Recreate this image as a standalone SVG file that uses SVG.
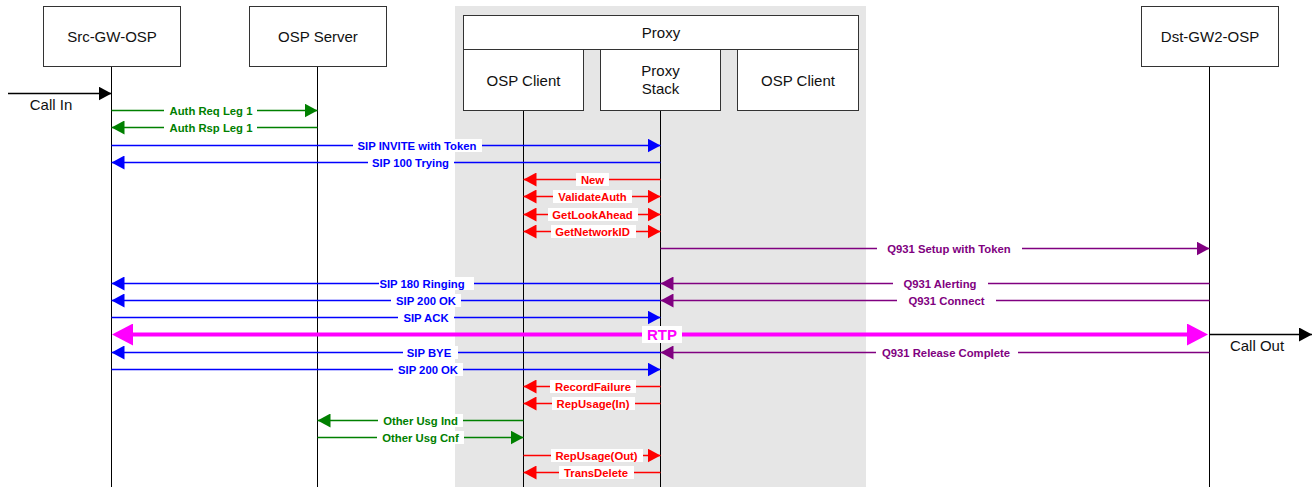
<svg xmlns="http://www.w3.org/2000/svg" width="1315" height="487" viewBox="0 0 1315 487">
<style>
.node rect{fill:#fff;stroke:#333;stroke-width:1}
.node text{font-family:"Liberation Sans",Arial,sans-serif;font-size:15px;fill:#111;text-anchor:middle}
.life{stroke:#000;stroke-width:1}
.lbl{font-family:"Liberation Sans",Arial,sans-serif;font-weight:bold;font-size:11.3px;text-anchor:middle}
.bg{fill:#fff}
.msg{stroke-width:1.3;fill:none}
.g{stroke:#008000}.gt{fill:#008000}
.b{stroke:#0000ff}.bt{fill:#0000ff}
.r{stroke:#ff0000}.rt{fill:#ff0000}
.p{stroke:#800080}.pt{fill:#800080}
.k{stroke:#000}
.plain{font-family:"Liberation Sans",Arial,sans-serif;font-size:15px;fill:#111;text-anchor:middle}
</style>
<defs>
<marker id="ag" markerUnits="userSpaceOnUse" markerWidth="13" markerHeight="14" viewBox="0 0 13 14" refX="13" refY="7" orient="auto-start-reverse"><path d="M0,0 L13,7 L0,14 z" fill="#008000"/></marker>
<marker id="ab" markerUnits="userSpaceOnUse" markerWidth="13" markerHeight="14" viewBox="0 0 13 14" refX="13" refY="7" orient="auto-start-reverse"><path d="M0,0 L13,7 L0,14 z" fill="#0000ff"/></marker>
<marker id="ar" markerUnits="userSpaceOnUse" markerWidth="13" markerHeight="14" viewBox="0 0 13 14" refX="13" refY="7" orient="auto-start-reverse"><path d="M0,0 L13,7 L0,14 z" fill="#ff0000"/></marker>
<marker id="ap" markerUnits="userSpaceOnUse" markerWidth="13" markerHeight="14" viewBox="0 0 13 14" refX="13" refY="7" orient="auto-start-reverse"><path d="M0,0 L13,7 L0,14 z" fill="#800080"/></marker>
<marker id="ak" markerUnits="userSpaceOnUse" markerWidth="13" markerHeight="14" viewBox="0 0 13 14" refX="13" refY="7" orient="auto-start-reverse"><path d="M0,0 L13,7 L0,14 z" fill="#000"/></marker>
<marker id="am" markerUnits="userSpaceOnUse" markerWidth="21" markerHeight="22" viewBox="0 0 21 22" refX="11" refY="11" orient="auto-start-reverse"><path d="M0,0 L21,11 L0,22 z" fill="#ff00ff"/></marker>
</defs>

<rect id="proxy-area" x="455" y="6" width="411" height="481" fill="#e6e6e6"/>

<g id="lifelines">
<line class="life" x1="111.5" y1="67" x2="111.5" y2="487"/>
<line class="life" x1="317.5" y1="67" x2="317.5" y2="487"/>
<line class="life" x1="523.5" y1="110" x2="523.5" y2="487"/>
<line class="life" x1="660.5" y1="110" x2="660.5" y2="487"/>
<line class="life" x1="1209.5" y1="67" x2="1209.5" y2="487"/>
</g>

<g id="src-gw" class="node"><rect x="43.5" y="6.5" width="137" height="60"/><text x="112" y="41.5">Src-GW-OSP</text></g>
<g id="osp-server" class="node"><rect x="249.5" y="6.5" width="137" height="60"/><text x="318" y="41.5">OSP Server</text></g>
<g id="proxy" class="node">
<rect x="463.5" y="15.5" width="395" height="34"/><text x="661" y="37.5">Proxy</text>
<g id="osp-client-1" class="node"><rect x="463.5" y="49.5" width="120" height="61"/><text x="523.5" y="85.5">OSP Client</text></g>
<g id="proxy-stack" class="node"><rect x="600.5" y="49.5" width="120" height="61"/><text x="660.5" y="75.5">Proxy</text><text x="660.5" y="93.5">Stack</text></g>
<g id="osp-client-2" class="node"><rect x="737.5" y="49.5" width="121" height="61"/><text x="798" y="85.5">OSP Client</text></g>
</g>
<g id="dst-gw" class="node"><rect x="1141.5" y="6.5" width="137" height="60"/><text x="1210" y="41.5">Dst-GW2-OSP</text></g>

<g id="connectors">
<line class="msg k" x1="8" y1="93.5" x2="111.5" y2="93.5" marker-end="url(#ak)"/>
<text class="plain" x="51" y="110">Call In</text>

<line class="msg g" x1="111.5" y1="110.5" x2="317.5" y2="110.5" marker-end="url(#ag)"/>
<rect class="bg" x="164" y="104" width="93" height="13"/><text class="lbl gt" x="211" y="114.5">Auth Req Leg 1</text>
<line class="msg g" x1="317.5" y1="127.5" x2="111.5" y2="127.5" marker-end="url(#ag)"/>
<rect class="bg" x="164" y="121" width="93" height="13"/><text class="lbl gt" x="211" y="131.5">Auth Rsp Leg 1</text>

<line class="msg b" x1="111.5" y1="145.5" x2="660.5" y2="145.5" marker-end="url(#ab)"/>
<rect class="bg" x="353" y="139" width="129" height="13"/><text class="lbl bt" x="417" y="149.5">SIP INVITE with Token</text>
<line class="msg b" x1="660.5" y1="162.5" x2="111.5" y2="162.5" marker-end="url(#ab)"/>
<rect class="bg" x="368" y="156" width="86" height="13"/><text class="lbl bt" x="410.5" y="166.5">SIP 100 Trying</text>

<line class="msg r" x1="660.5" y1="179.5" x2="523.5" y2="179.5" marker-end="url(#ar)"/>
<rect class="bg" x="576" y="173" width="33" height="13"/><text class="lbl rt" x="592.5" y="183.5">New</text>
<line class="msg r" x1="523.5" y1="196.5" x2="660.5" y2="196.5" marker-start="url(#ar)" marker-end="url(#ar)"/>
<rect class="bg" x="553" y="190" width="79" height="13"/><text class="lbl rt" x="592.5" y="200.5">ValidateAuth</text>
<line class="msg r" x1="523.5" y1="214.5" x2="660.5" y2="214.5" marker-start="url(#ar)" marker-end="url(#ar)"/>
<rect class="bg" x="548" y="208" width="90" height="13"/><text class="lbl rt" x="592.5" y="218.5">GetLookAhead</text>
<line class="msg r" x1="523.5" y1="231.5" x2="660.5" y2="231.5" marker-start="url(#ar)" marker-end="url(#ar)"/>
<rect class="bg" x="551" y="225" width="85" height="13"/><text class="lbl rt" x="592.5" y="235.5">GetNetworkID</text>

<line class="msg p" x1="660.5" y1="248.5" x2="1209.5" y2="248.5" marker-end="url(#ap)"/>
<rect class="bg" x="877" y="242" width="145" height="13"/><text class="lbl pt" x="949" y="252.5">Q931 Setup with Token</text>

<line class="msg b" x1="660.5" y1="283.5" x2="111.5" y2="283.5" marker-end="url(#ab)"/>
<rect class="bg" x="379" y="277" width="95" height="13"/><text class="lbl bt" x="422" y="287.5">SIP 180 Ringing</text>
<line class="msg p" x1="1209.5" y1="283.5" x2="660.5" y2="283.5" marker-end="url(#ap)"/>
<rect class="bg" x="893" y="277" width="95" height="13"/><text class="lbl pt" x="940" y="287.5">Q931 Alerting</text>

<line class="msg b" x1="660.5" y1="300.5" x2="111.5" y2="300.5" marker-end="url(#ab)"/>
<rect class="bg" x="391" y="294" width="70" height="13"/><text class="lbl bt" x="426" y="304.5">SIP 200 OK</text>
<line class="msg p" x1="1209.5" y1="300.5" x2="660.5" y2="300.5" marker-end="url(#ap)"/>
<rect class="bg" x="897" y="294" width="99" height="13"/><text class="lbl pt" x="946.5" y="304.5">Q931 Connect</text>

<line class="msg b" x1="111.5" y1="317.5" x2="660.5" y2="317.5" marker-end="url(#ab)"/>
<rect class="bg" x="398" y="311" width="56" height="13"/><text class="lbl bt" x="426" y="321.5">SIP ACK</text>

<line x1="122" y1="334.5" x2="1198" y2="334.5" stroke="#ff00ff" stroke-width="4" marker-start="url(#am)" marker-end="url(#am)"/>
<rect class="bg" x="642" y="326" width="40" height="17"/><text x="662" y="340" font-family="Liberation Sans, Arial, sans-serif" font-weight="bold" font-size="15" fill="#ff00ff" text-anchor="middle">RTP</text>
<line class="msg k" x1="1209.5" y1="334.5" x2="1312" y2="334.5" marker-end="url(#ak)"/>
<text class="plain" x="1257" y="351">Call Out</text>

<line class="msg b" x1="660.5" y1="352.5" x2="111.5" y2="352.5" marker-end="url(#ab)"/>
<rect class="bg" x="403" y="346" width="55" height="13"/><text class="lbl bt" x="429" y="356.5">SIP BYE</text>
<line class="msg p" x1="1209.5" y1="352.5" x2="660.5" y2="352.5" marker-end="url(#ap)"/>
<rect class="bg" x="876" y="346" width="142" height="13"/><text class="lbl pt" x="946" y="356.5">Q931 Release Complete</text>

<line class="msg b" x1="111.5" y1="369.5" x2="660.5" y2="369.5" marker-end="url(#ab)"/>
<rect class="bg" x="393" y="363" width="70" height="13"/><text class="lbl bt" x="428" y="373.5">SIP 200 OK</text>

<line class="msg r" x1="660.5" y1="386.5" x2="523.5" y2="386.5" marker-end="url(#ar)"/>
<rect class="bg" x="550" y="380" width="86" height="13"/><text class="lbl rt" x="593" y="390.5">RecordFailure</text>
<line class="msg r" x1="660.5" y1="403.5" x2="523.5" y2="403.5" marker-end="url(#ar)"/>
<rect class="bg" x="552" y="397" width="83" height="13"/><text class="lbl rt" x="593" y="407.5">RepUsage(In)</text>

<line class="msg g" x1="523.5" y1="420.5" x2="317.5" y2="420.5" marker-end="url(#ag)"/>
<rect class="bg" x="378" y="414" width="85" height="13"/><text class="lbl gt" x="420.5" y="424.5">Other Usg Ind</text>
<line class="msg g" x1="317.5" y1="437.5" x2="523.5" y2="437.5" marker-end="url(#ag)"/>
<rect class="bg" x="377" y="431" width="87" height="13"/><text class="lbl gt" x="420.5" y="441.5">Other Usg Cnf</text>

<line class="msg r" x1="523.5" y1="455.5" x2="660.5" y2="455.5" marker-end="url(#ar)"/>
<rect class="bg" x="551" y="449" width="92" height="13"/><text class="lbl rt" x="596.5" y="459.5">RepUsage(Out)</text>
<line class="msg r" x1="660.5" y1="472.5" x2="523.5" y2="472.5" marker-end="url(#ar)"/>
<rect class="bg" x="559" y="466" width="75" height="13"/><text class="lbl rt" x="596" y="476.5">TransDelete</text>
</g>
</svg>
